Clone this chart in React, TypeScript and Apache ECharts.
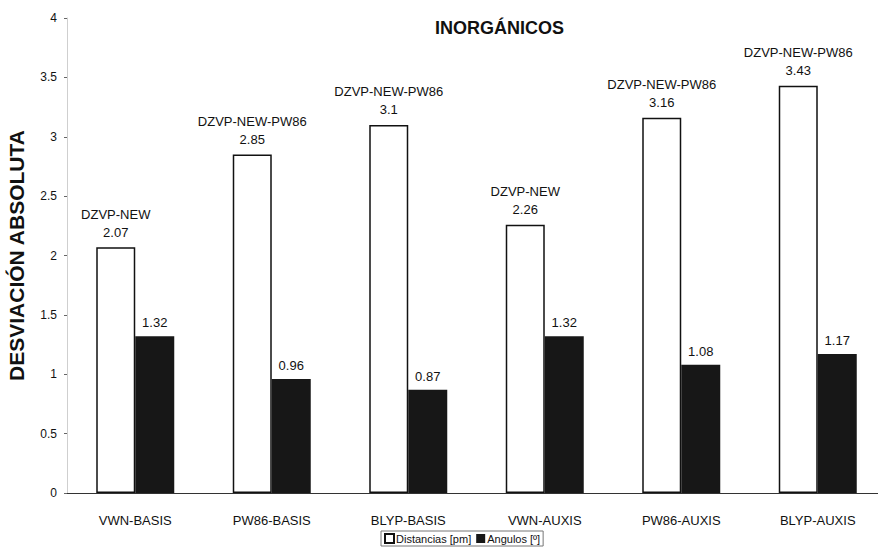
import React, { useEffect, useRef } from "react";
import * as echarts from "echarts";

const categories = ["VWN-BASIS", "PW86-BASIS", "BLYP-BASIS", "VWN-AUXIS", "PW86-AUXIS", "BLYP-AUXIS"];
const distancias = [2.07, 2.85, 3.1, 2.26, 3.16, 3.43];
const angulos = [1.32, 0.96, 0.87, 1.32, 1.08, 1.17];
const basisLabels = ["DZVP-NEW", "DZVP-NEW-PW86", "DZVP-NEW-PW86", "DZVP-NEW", "DZVP-NEW-PW86", "DZVP-NEW-PW86"];
const yTicks = { min: 0, max: 4, interval: 0.5 };

const FONT = "'Liberation Sans', Arial, Helvetica, sans-serif";

export default function App() {
  const ref = useRef<HTMLDivElement>(null);
  useEffect(() => {
    if (!ref.current) return;
    const chart = echarts.init(ref.current, null, { renderer: "svg" });
    chart.setOption({
      animation: false,
      backgroundColor: "#fff",
      textStyle: { fontFamily: FONT },
      title: {
        text: "INORGÁNICOS",
        left: 435,
        top: 19,
        padding: 0,
        textStyle: { fontSize: 18, fontWeight: "bold", color: "#111", fontFamily: FONT },
      },
      legend: {
        left: 381,
        top: 531,
        itemWidth: 9,
        itemHeight: 9,
        itemGap: 5,
        padding: [2, 3],
        borderColor: "#777",
        borderWidth: 1,
        textStyle: { fontSize: 11, color: "#111", padding: [0, 0, 0, -3], fontFamily: FONT },
        data: [
          { name: "Distancias [pm]", icon: "rect" },
          { name: "Angulos [º]", icon: "rect" },
        ],
      },
      grid: { left: 67, right: -8, top: 18, bottom: 59, outerBoundsMode: "none" },
      xAxis: {
        type: "category",
        data: categories,
        axisLine: { lineStyle: { color: "#333", width: 1 } },
        axisTick: { show: false },
        axisLabel: { fontSize: 13, color: "#111", margin: 21, fontFamily: FONT },
      },
      yAxis: {
        type: "value",
        min: yTicks.min,
        max: yTicks.max,
        interval: yTicks.interval,
        name: "DESVIACIÓN ABSOLUTA",
        nameLocation: "middle",
        nameGap: 40,
        nameTextStyle: { fontSize: 21, fontWeight: "bold", color: "#111", fontFamily: FONT },
        axisLine: { show: true, lineStyle: { color: "#cfcfcf", width: 1 } },
        axisTick: { show: true, length: 3, lineStyle: { color: "#666" } },
        splitLine: { show: false },
        axisLabel: { fontSize: 12, color: "#111", margin: 10, fontFamily: FONT },
      },
      series: [
        {
          name: "Distancias [pm]",
          type: "bar",
          data: distancias,
          barWidth: 39,
          barGap: "0%",
          itemStyle: { color: "#ffffff", borderColor: "#111", borderWidth: 1.5 },
          label: {
            show: true,
            position: "top",
            distance: 6,
            fontSize: 13,
            lineHeight: 18,
            color: "#111",
            fontFamily: FONT,
            formatter: (p: any) => `${basisLabels[p.dataIndex]}\n${p.value}`,
          },
        },
        {
          name: "Angulos [º]",
          type: "bar",
          data: angulos,
          barWidth: 39,
          barGap: "0%",
          itemStyle: { color: "#171717" },
          label: {
            show: true,
            position: "top",
            distance: 7,
            fontSize: 13,
            color: "#111",
            fontFamily: FONT,
          },
        },
      ],
    });
    return () => chart.dispose();
  }, []);
  return <div ref={ref} style={{ width: 878, height: 552, position: "fixed", left: 0, top: 0 }} />;
}
